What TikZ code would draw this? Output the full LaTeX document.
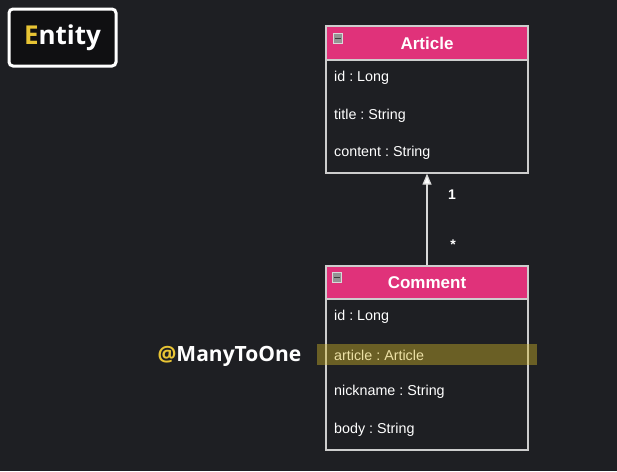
\documentclass[tikz,border=0pt]{standalone}
\usepackage{fontspec}
\setmainfont{Liberation Sans}
\newfontfamily\badgefont{Open Sans}
\usetikzlibrary{arrows.meta}
\frenchspacing
\definecolor{bg}{RGB}{30,31,35}
\definecolor{hdr}{RGB}{224,50,122}
\definecolor{bord}{RGB}{205,205,205}
\definecolor{ylw}{RGB}{232,196,52}
\definecolor{hl}{RGB}{212,184,42}
\definecolor{badgebg}{RGB}{16,16,18}
\tikzset{
  classbox/.style={draw=bord, line width=1.3pt, fill=bg, minimum width=202pt, inner sep=0pt},
  classhdr/.style={draw=bord, line width=1.3pt, fill=hdr, minimum width=202pt, inner sep=0pt, text=white, font=\fontsize{17}{20}\selectfont\bfseries},
  field/.style={anchor=west, text=white, inner sep=0pt, font=\fontsize{14.3}{16}\selectfont},
  minusicon/.style={draw=white!85!black, fill=white!58!black, line width=0.7pt, minimum size=9.5pt, inner sep=0pt},
  mult/.style={text=white, font=\fontsize{14}{16}\selectfont\bfseries, inner sep=0pt},
  assoc/.style={draw=white!85!black, line width=1.2pt, -{Triangle[length=11pt,width=9pt,fill=white]}},
}
\begin{document}
\begin{tikzpicture}[x=1pt,y=-1pt]
\useasboundingbox[fill=bg] (0,0) rectangle (617,471);
% badge
\node[draw=white, line width=3pt, rounded corners=4pt, fill=badgebg, minimum width=107pt, minimum height=57pt, inner sep=0pt,
      font=\badgefont\fontsize{26}{30}\selectfont\bfseries, text=white] (badge) at (62.5,37.5) {\textcolor{ylw}{E}ntity};
% Article
\node[classbox, minimum height=147pt] (article) at (427,99.5) {};
\node[classhdr, minimum height=34pt] (articlehdr) at (427,43) {Article};
\node[minusicon] (articleminus) at (338,38.5) {};
\draw[line width=1.5pt, black!75] ([xshift=-3pt]articleminus.center) -- ([xshift=3pt]articleminus.center);
\node[field] (a1) at (334,78) {id : Long};
\node[field] (a2) at (334,116) {title : String};
\node[field] (a3) at (334,153) {content : String};
% Comment
\node[classbox, minimum height=184pt] (comment) at (427,358) {};
\node[classhdr, minimum height=33pt] (commenthdr) at (427,282.5) {Comment};
\node[minusicon] (commentminus) at (337,277.5) {};
\draw[line width=1.5pt, black!75] ([xshift=-3pt]commentminus.center) -- ([xshift=3pt]commentminus.center);
\node[field] (c1) at (334,317) {id : Long};
\node[field] (c2) at (334,355) {article : Article};
\node[field] (c3) at (334,392) {nickname : String};
\node[field] (c4) at (334,430) {body : String};
% association
\draw[assoc] (commenthdr.north) -- (article.south);
\node[mult] (one) at (452,195) {1};
\node[mult] (many) at (453,245) {*};
% highlight
\node[fill=hl, fill opacity=0.42, minimum width=220pt, minimum height=21pt, inner sep=0pt] (hlbar) at (427,354.5) {};
\node[text=white, inner sep=0pt, font=\badgefont\fontsize{21}{24}\selectfont\bfseries] (anno) at (229.5,356) {\textcolor{ylw}{@}ManyToOne};
\end{tikzpicture}
\end{document}
